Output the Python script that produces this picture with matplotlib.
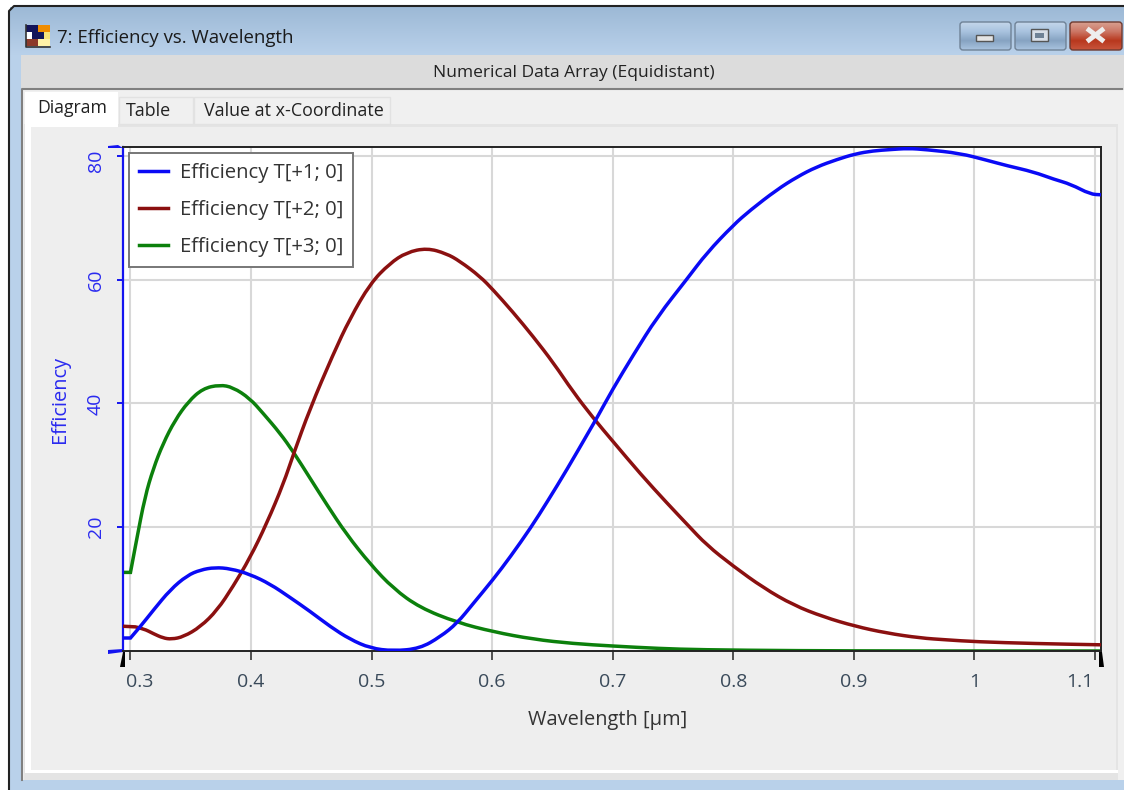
"""
Recreates the Efficiency vs. Wavelength diagram window.
"""
import matplotlib
matplotlib.use("Agg")
import matplotlib.pyplot as plt
from matplotlib.colors import LinearSegmentedColormap
from matplotlib.lines import Line2D
from matplotlib.patches import PathPatch, Polygon, Rectangle, FancyBboxPatch
from matplotlib.path import Path
from matplotlib.transforms import Affine2D
import numpy as np

plt.rcParams['font.family'] = ['Open Sans', 'DejaVu Sans']

# Efficiency curves
x_blue = [0.2938, 0.300, 0.308, 0.319, 0.333, 0.347, 0.358, 0.370, 0.383, 0.399, 0.416, 0.432, 0.449, 0.466, 0.482,
          0.499, 0.518, 0.540, 0.557, 0.571, 0.584, 0.601, 0.615, 0.632, 0.646, 0.662, 0.681, 0.687, 0.700, 0.717,
          0.737, 0.762, 0.778, 0.800, 0.814, 0.836, 0.853, 0.869, 0.886, 0.901, 0.916, 0.930, 0.945, 0.960, 0.988,
          1.010, 1.027, 1.049, 1.066, 1.080, 1.096, 1.105]
y_blue = [2.1, 2.1, 3.9, 6.6, 9.9, 12.2, 13.1, 13.5, 13.3, 12.4, 10.8, 8.7, 6.4, 3.9, 1.9,
          0.45, 0, 0.4, 2.3, 4.5, 7.6, 11.6, 15.2, 19.9, 24.2, 29.3, 35.7, 37.7, 42.3, 47.8,
          54, 60.2, 64.3, 68.8, 71.2, 74.5, 76.6, 78.2, 79.4, 80.3, 80.8, 81, 81.2, 81, 80.4,
          79.3, 78.4, 77.4, 76.2, 75.4, 73.8, 73.7]

x_red = [0.2938, 0.304, 0.311, 0.319, 0.327, 0.334, 0.344, 0.358, 0.372, 0.385, 0.399, 0.413, 0.427, 0.435, 0.449,
         0.468, 0.482, 0.499, 0.515, 0.529, 0.546, 0.562, 0.573, 0.590, 0.601, 0.617, 0.634, 0.651, 0.667, 0.684,
         0.700, 0.723, 0.745, 0.762, 0.778, 0.800, 0.825, 0.850, 0.875, 0.901, 0.927, 0.955, 0.977, 1.001, 1.05, 1.105]
y_red = [4.0, 3.9, 3.6, 2.8, 2.1, 1.9, 2.3, 3.9, 6.6, 10.4, 15, 20.6, 27.1, 31.7, 39.2,
         47.9, 53.7, 59.4, 62.6, 64.4, 65.1, 64.2, 63, 60.5, 58.3, 54.8, 50.8, 46.5, 41.9, 37.6,
         33.9, 28.6, 23.9, 20.4, 17.1, 13.7, 10.2, 7.4, 5.5, 4.0, 2.9, 2.1, 1.8, 1.5, 1.2, 1.0]

x_green = [0.2938, 0.300, 0.305, 0.312, 0.319, 0.327, 0.337, 0.348, 0.360, 0.374, 0.385, 0.399, 0.410, 0.424, 0.435,
           0.449, 0.463, 0.479, 0.499, 0.518, 0.540, 0.571, 0.601, 0.634, 0.667, 0.700, 0.739, 0.773, 0.85, 0.95, 1.105]
y_green = [12.7, 12.7, 17.9, 24.9, 29.5, 33.5, 37.3, 40.3, 42.4, 43.0, 42.6, 40.8, 38.4, 35.2, 32.2,
           27.9, 23.6, 18.9, 14.0, 10.1, 7.0, 4.6, 3.1, 1.9, 1.2, 0.8, 0.4, 0.2, 0.05, 0, 0]

x_ticks = [0.3, 0.4, 0.5, 0.6, 0.7, 0.8, 0.9, 1.0, 1.1]
x_tick_labels = ['0.3', '0.4', '0.5', '0.6', '0.7', '0.8', '0.9', '1', '1.1']
y_ticks = [20, 40, 60, 80]

W, H = 1124, 790
fig = plt.figure(figsize=(W / 100, H / 100), dpi=100, facecolor='white')

# window chrome, drawn in pixel coordinates
bg = fig.add_axes([0, 0, 1, 1])
bg.axis('off')


def box(x0, y0, x1, y1, color, edge='none', lw=1, z=1):
    bg.add_patch(Rectangle((x0, y0), x1 - x0, y1 - y0, facecolor=color, edgecolor=edge, linewidth=lw, zorder=z))


def gradient(x0, y0, x1, y1, colors, z, clip=None):
    cmap = LinearSegmentedColormap.from_list('g', colors)
    im = bg.imshow(np.linspace(0, 1, 64).reshape(-1, 1), extent=(x0, x1, y1, y0), cmap=cmap, aspect='auto', zorder=z)
    if clip is not None:
        im.set_clip_path(clip)


def smooth_curve(ax, xs, ys, color, z):
    # rounds the corners between the read points with quadratic segments
    pts = list(zip(xs, ys))
    verts = [pts[0], pts[1]]
    codes = [Path.MOVETO, Path.LINETO]
    for i in range(2, len(pts) - 1):
        mid = ((pts[i][0] + pts[i + 1][0]) / 2, (pts[i][1] + pts[i + 1][1]) / 2)
        verts += [pts[i], mid]
        codes += [Path.CURVE3, Path.CURVE3]
    verts.append(pts[-1])
    codes.append(Path.LINETO)
    ax.add_patch(PathPatch(Path(verts, codes), facecolor='none', edgecolor=color, lw=2.5, zorder=z))


gradient(10, 7, W, 55, ['#9db9d6', '#b9d1ea'], 0)
box(10, 55, W, H, '#b9d1ea')
bg.plot([9, 9, 14, W], [H, 11, 6, 6], color='#222222', lw=1.5, zorder=2)
box(21, 55, W, 90, '#dcdcdc', z=2)
box(21, 90, W, 780, '#f0f0f0', z=2)
bg.plot([22, 22, 1122], [780, 89, 89], color='#808080', lw=1.5, zorder=3)
box(24, 124, 1118, 780, '#e4e4e4', z=3)
box(31, 127, 1116, 770, '#eeeeee', z=4)
box(25, 92, 118, 127, 'white', z=5)
box(119, 97, 193, 124, '#f0f0f0', edge='#e2e2e2', z=5)
box(194, 97, 390, 124, '#f0f0f0', edge='#e2e2e2', z=5)
box(25, 125, 31, 773, 'white', z=5)
box(25, 770, 1118, 773, 'white', z=5)

bg.text(57, 38, '7: Efficiency vs. Wavelength', fontsize=13.4, color='#1a1a1a', va='center', zorder=6)
bg.text(574, 73, 'Numerical Data Array (Equidistant)', fontsize=12.5, color='#222222', ha='center', va='center', zorder=6)
bg.text(72, 108, 'Diagram', fontsize=12.7, color='#222222', ha='center', va='center', zorder=6)
bg.text(148, 111, 'Table', fontsize=12.9, color='#222222', ha='center', va='center', zorder=6)
bg.text(294, 111, 'Value at x-Coordinate', fontsize=12.9, color='#222222', ha='center', va='center', zorder=6)

# window icon
icon_colors = [['#14145a', '#14145a', '#f08c00', '#f08c00'], ['#ffffff', '#14145a', '#14145a', '#f7e27a'],
               ['#8c3a2a', '#8c3a2a', '#fff2a8', '#fff2a8']]
for r, row in enumerate(icon_colors):
    for c, col in enumerate(row):
        box(26 + c * 6, 25 + r * 7, 32 + c * 6, 32 + r * 7, col, z=6)
bg.plot([26, 26, 50], [25, 47, 47], color='#333333', lw=1.2, zorder=7)

# window buttons
for x0, x1, cols, edge in [(960, 1011, ['#c4d6ea', '#a9c3df', '#86a3c2', '#a9c3df'], '#6f8296'),
                           (1015, 1066, ['#c4d6ea', '#a9c3df', '#86a3c2', '#a9c3df'], '#6f8296'),
                           (1070, 1122, ['#d8a090', '#cc7766', '#b8381e', '#c8553c'], '#6e3a30')]:
    btn = FancyBboxPatch((x0, 22), x1 - x0, 28, boxstyle='round,pad=0,rounding_size=3',
                         facecolor='none', edgecolor=edge, linewidth=1, zorder=7)
    bg.add_patch(btn)
    gradient(x0, 22, x1, 50, cols, 6, clip=btn)
box(976, 35, 993, 41, '#e4e4e4', edge='#555555', z=8)
box(1031, 29, 1048, 41, '#d8dfe8', edge='#555555', z=8)
box(1035, 33, 1044, 38, '#6f8296', z=9)
bg.plot([1089, 1102], [30, 40], color='#eeeeee', lw=3.5, zorder=8)
bg.plot([1089, 1102], [40, 30], color='#eeeeee', lw=3.5, zorder=8)

# range sliders next to the plot area
bg.add_patch(Polygon([(108, 146), (118, 145), (123, 148), (108, 148)], facecolor='#1414f0', zorder=6))
bg.add_patch(Polygon([(108, 650), (123, 649), (123, 652), (108, 654)], facecolor='#1414f0', zorder=6))
bg.add_patch(Polygon([(123, 652), (125, 652), (125, 667), (120, 667)], facecolor='black', zorder=6))
bg.add_patch(Polygon([(1099, 652), (1102, 652), (1104, 667), (1099, 667)], facecolor='black', zorder=6))

bg.set_xlim(0, W)
bg.set_ylim(H, 0)

# plot area: x from 123 to 1101 px, y from 147 to 651 px
ax = fig.add_axes([123 / W, 1 - 651 / H, (1101 - 123) / W, (651 - 147) / H], zorder=10)
ax.set_xlim(0.2938, 1.105)
ax.set_ylim(0, 81.42)

smooth_curve(ax, x_blue, y_blue, '#0a0af5', 4)
smooth_curve(ax, x_red, y_red, '#8b1010', 3)
smooth_curve(ax, x_green, y_green, '#0c800c', 2)

ax.set_xticks(x_ticks)
ax.set_xticklabels(x_tick_labels)
ax.set_yticks(y_ticks)
ax.set_yticklabels([str(v) for v in y_ticks], rotation=90, va='center', color='#2a2af0')
ax.grid(True, color='#d8d8d8', lw=1.5)
ax.set_axisbelow(True)
ax.tick_params(axis='x', length=6.5, width=1.2, color='#333333', labelsize=14, labelcolor='#3a4a5a', pad=9)
ax.tick_params(axis='y', length=4.3, width=1.4, color='#1414f0', labelsize=14, pad=9)

# the outermost labels are pushed inwards to stay inside the axis
xlabels = ax.get_xticklabels()
xlabels[0].set_transform(xlabels[0].get_transform() + Affine2D().translate(9.5, 0))
xlabels[-1].set_transform(xlabels[-1].get_transform() + Affine2D().translate(-15, 0))
ylabels = ax.get_yticklabels()
ylabels[-1].set_transform(ylabels[-1].get_transform() + Affine2D().translate(0, -5))

ax.set_xlabel('Wavelength [µm]', fontsize=14.4, color='#333333', va='center')
ax.xaxis.set_label_coords((608 - 123) / 978, -(720 - 651) / 504)
ax.set_ylabel('Efficiency', fontsize=14.4, color='#2a2af0', va='center')
ax.yaxis.set_label_coords(-(123 - 60) / 978, (651 - 399) / 504)

for s in ['top', 'right', 'bottom']:
    ax.spines[s].set_color('#222222')
    ax.spines[s].set_linewidth(1.4)
ax.spines['left'].set_color('#1414f0')
ax.spines['left'].set_linewidth(1.6)

handles = [Line2D([], [], color=c, lw=2.5) for c in ['#0a0af5', '#8b1010', '#0c800c']]
leg = ax.legend(handles, ['Efficiency T[+1; 0]', 'Efficiency T[+2; 0]', 'Efficiency T[+3; 0]'],
                loc='upper left', bbox_to_anchor=(6 / 978, 1 - 6 / 504), borderaxespad=0, fontsize=14.6,
                frameon=True, fancybox=False, framealpha=1, edgecolor='#777777', labelcolor='#333333',
                handlelength=1.4, handletextpad=0.6, labelspacing=0.84, borderpad=0.5)
leg.get_frame().set_linewidth(1.4)

fig.savefig('out.png', dpi=100, facecolor=fig.get_facecolor())
